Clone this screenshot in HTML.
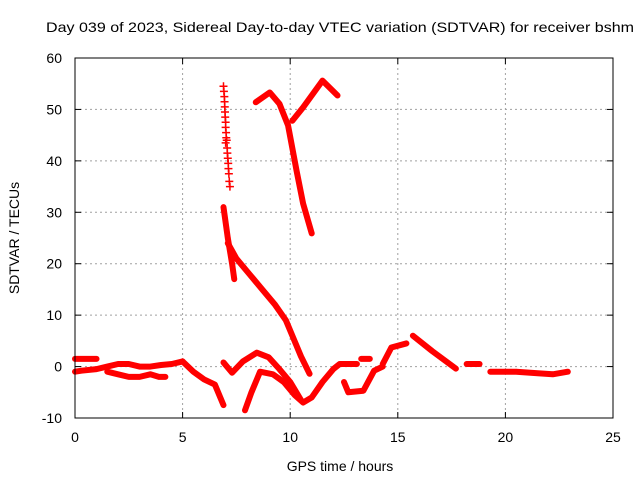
<!DOCTYPE html>
<html><head><meta charset="utf-8"><style>
body{margin:0;background:#fff;}
svg{display:block;font-family:"Liberation Sans",sans-serif;}
</style></head><body>
<svg id="chart" width="640" height="480">
<text x="340" y="32" font-size="14" text-anchor="middle" textLength="588" lengthAdjust="spacingAndGlyphs">Day 039 of 2023, Sidereal Day-to-day VTEC variation (SDTVAR) for receiver bshm</text>
<text x="340" y="471" font-size="14" text-anchor="middle">GPS time / hours</text>
<text x="19" y="238" font-size="14" text-anchor="middle" transform="rotate(-90 19 238)">SDTVAR / TECUs</text>
<g id="grid"></g>
<g id="ticks"></g>
<g id="series"></g>
<rect x="75" y="58" width="538" height="360" fill="none" stroke="#000" stroke-width="1"/>
</svg>
<script>
const xTicks=[0,5,10,15,20,25];
const yTicks=[-10,0,10,20,30,40,50,60];
// tracks: hours and TECU values
const trackA1x=[0,0.3,1,1.5,2,2.5,3,3.5,4,4.5,5];
const trackA1y=[-1,-0.8,-0.5,0,0.5,0.5,0,0,0.3,0.5,1];
const trackA2x=[0,0.5,1];
const trackA2y=[1.5,1.5,1.5];
const trackA3x=[1.5,2,2.5,3,3.5,3.9,4.2];
const trackA3y=[-1,-1.5,-2,-2,-1.5,-2,-2];
const trackBx=[5,5.5,6,6.5,6.9];
const trackBy=[1,-1,-2.5,-3.5,-7.5];
const trackCx=[6.9,7.3,7.8,8.45,9,9.5,10,10.5];
const trackCy=[0.8,-1.2,1,2.7,1.8,-0.5,-3,-6.5];
const trackDx=[7.9,8.2,8.6,9.2,9.7,10.2,10.6,11,11.5,12,12.3,13.1];
const trackDy=[-8.5,-5,-1,-1.5,-3,-5.5,-7,-6,-3,-0.5,0.5,0.5];
const trackEx=[6.9,7.1,7.3,7.4];
const trackEy=[31,25,20,17];
const trackFx=[7.1,7.5,8.1,8.7,9.3,9.8,10.2,10.5,10.9];
const trackFy=[24,21,18,15,12,9,5,2,-1.4];
const trackGx=[6.9,6.92,6.94,6.95,6.96,6.97,6.98,7.0,7.0,7.02,7.03,7.05,7.0,7.07,7.08,7.1,7.12,7.13,7.15,7.17,7.2];
const trackGy=[54.5,53.5,52.5,51.5,50.5,49.5,48.5,47.5,46.5,45.5,44.5,44,43.5,42.5,41.5,40.5,39.5,38.5,37.5,36,35];
const trackHx=[8.4,9.05,9.5,9.9,10.3,10.6,11];
const trackHy=[51.4,53.3,51.1,46.9,38,31.7,25.9];
const trackIx=[10.1,10.6,11.5,12.2];
const trackIy=[47.8,50.4,55.6,52.7];
const trackKx=[12.5,12.7,13.4,13.9,14.3];
const trackKy=[-3,-5,-4.7,-0.8,0];
const trackK2x=[13.3,13.7];
const trackK2y=[1.5,1.5];
const trackLx=[14.3,14.7,15.4];
const trackLy=[0.5,3.7,4.5];
const trackMx=[15.7,16.6,17.7];
const trackMy=[6,3,-0.4];
const trackNx=[18.2,18.8];
const trackNy=[0.5,0.5];
const trackOx=[19.3,20.5,21.5,22.2,22.9];
const trackOy=[-1,-1,-1.3,-1.5,-1];

const X=h=>75+h*538/25;
const Y=v=>418-(v+10)*360/70;
const NS="http://www.w3.org/2000/svg";
const grid=document.getElementById('grid'),ticks=document.getElementById('ticks'),series=document.getElementById('series');
function mk(tag,attrs,parent){const e=document.createElementNS(NS,tag);for(const k in attrs)e.setAttribute(k,attrs[k]);parent.appendChild(e);return e;}
xTicks.forEach(t=>{
  const x=X(t);
  if(t>0&&t<25){const g=mk('line',{x1:x,x2:x,y1:58,y2:418,stroke:'#a0a0a0','stroke-dasharray':'2,3'},grid);
  
  }
  mk('line',{x1:x,x2:x,y1:418,y2:412,stroke:'#000'},ticks);
  mk('line',{x1:x,x2:x,y1:58,y2:64,stroke:'#000'},ticks);
  const l=mk('text',{x:x,y:442,'font-size':14,'text-anchor':'middle'},ticks);l.textContent=t;
  
  
});
yTicks.forEach(t=>{
  const y=Y(t);
  if(t>-10&&t<60){const g=mk('line',{x1:75,x2:613,y1:y,y2:y,stroke:'#a0a0a0','stroke-dasharray':'2,3'},grid);
  
  }
  mk('line',{x1:75,x2:81,y1:y,y2:y,stroke:'#000'},ticks);
  mk('line',{x1:613,x2:607,y1:y,y2:y,stroke:'#000'},ticks);
  const l=mk('text',{x:62,y:y+5,'font-size':14,'text-anchor':'end'},ticks);l.textContent=t;
  
  
});
const bands=[[trackA1x,trackA1y],[trackA2x,trackA2y],[trackA3x,trackA3y],[trackBx,trackBy],[trackCx,trackCy],[trackDx,trackDy],[trackEx,trackEy],[trackFx,trackFy],[trackHx,trackHy],[trackIx,trackIy],[trackKx,trackKy],[trackK2x,trackK2y],[trackLx,trackLy],[trackMx,trackMy],[trackNx,trackNy],[trackOx,trackOy]];
bands.forEach(([xs,ys])=>{
  const pts=xs.map((h,i)=>X(h)+','+Y(ys[i])).join(' ');
  const p=mk('polyline',{points:pts,fill:'none',stroke:'#f00','stroke-width':6,'stroke-linejoin':'round','stroke-linecap':'round'},series);
  
  
});
trackGx.forEach((h,i)=>{
  const x=X(h),y=Y(trackGy[i]);
  const p=mk('path',{d:`M${x-4},${y}H${x+4}M${x},${y-4}V${y+4}`,stroke:'#f00','stroke-width':1.5},series);
  
  
});
</script>
</body></html>
